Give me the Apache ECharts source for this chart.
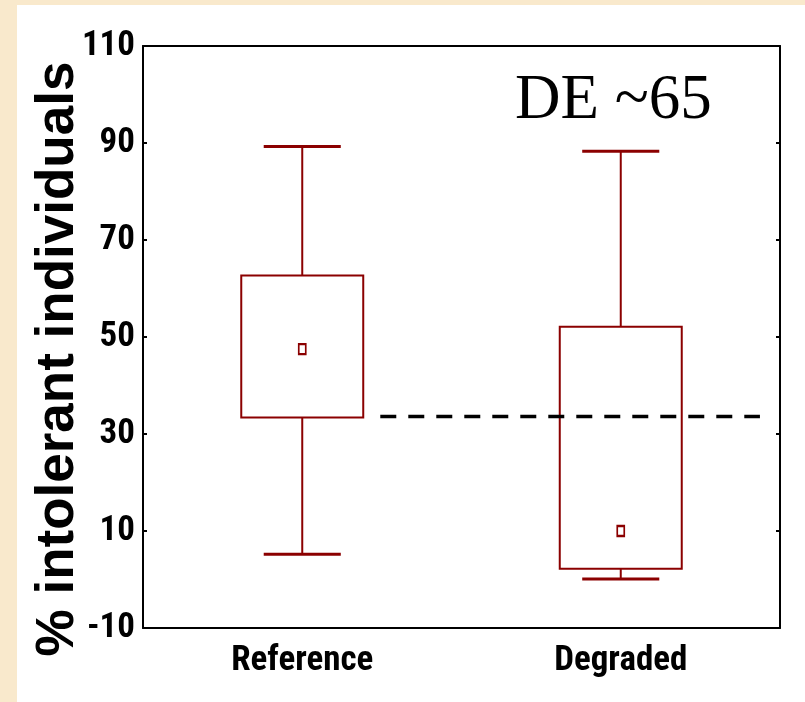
<!DOCTYPE html>
<html>
<head>
<meta charset="utf-8">
<script src="https://cdn.jsdelivr.net/npm/echarts@6/dist/echarts.min.js"></script>
<style>
  html, body { margin: 0; padding: 0; width: 805px; height: 702px; background: #F9E9CC; overflow: hidden; }
  #chart { position: absolute; left: 17px; top: 5px; width: 788px; height: 697px; background: #ffffff; }
</style>
</head>
<body>
<div id="chart"></div>
<script>
// ---- data ----
const categories = ['Reference', 'Degraded'];
const whiskerLow = [5.2, 0.1];
const boxLow = [33.4, 2.2];
const boxHigh = [62.7, 52.1];
const whiskerHigh = [89.3, 88.3];
const centerMark = [47.5, 10.0];
const yTicks = { min: -10, max: 110, interval: 20 };
const thresholdValue = 33.6;
const thresholdSpan = [0.745, 1.937]; // in category-band units
const titleText = 'DE ~65';
const yTitle = '% intolerant individuals';

const boxColor = '#8B0000';
const narrow = "'Liberation Sans Narrow', 'Arial Narrow', 'Roboto Condensed', 'Liberation Sans', sans-serif";

const chart = echarts.init(document.getElementById('chart'), null, { renderer: 'canvas' });

const boxData = categories.map((c, i) => [i, whiskerLow[i], boxLow[i], boxHigh[i], whiskerHigh[i]]);

function renderBox(params, api) {
  const idx = api.value(0);
  const band = api.size([1, 0])[0];
  const x = api.coord([idx, 0])[0];
  const yWL = api.coord([idx, api.value(1)])[1];
  const yBL = api.coord([idx, api.value(2)])[1];
  const yBH = api.coord([idx, api.value(3)])[1];
  const yWH = api.coord([idx, api.value(4)])[1];
  const bh = band * 0.1915;
  const ch = band * 0.121;
  return {
    type: 'group',
    children: [
      { type: 'line', shape: { x1: x, y1: yWH, x2: x, y2: yBH }, style: { stroke: boxColor, lineWidth: 2 } },
      { type: 'line', shape: { x1: x, y1: yBL, x2: x, y2: yWL }, style: { stroke: boxColor, lineWidth: 2 } },
      { type: 'line', shape: { x1: x - ch, y1: yWH, x2: x + ch, y2: yWH }, style: { stroke: boxColor, lineWidth: 3 } },
      { type: 'line', shape: { x1: x - ch, y1: yWL, x2: x + ch, y2: yWL }, style: { stroke: boxColor, lineWidth: 3 } },
      { type: 'rect', shape: { x: x - bh, y: yBH, width: 2 * bh, height: yBL - yBH }, style: { fill: '#ffffff', stroke: boxColor, lineWidth: 2 } }
    ]
  };
}

const option = {
  backgroundColor: '#ffffff',
  animation: false,
  title: {
    text: titleText,
    left: 493,
    top: 60,
    textStyle: { fontFamily: "'Liberation Serif', 'Times New Roman', serif", fontSize: 63, fontWeight: 'normal', color: '#000' }
  },
  graphic: [{
    type: 'text',
    x: 41, y: 354,
    rotation: Math.PI / 2,
    style: { text: yTitle, fontFamily: "'Liberation Sans', Arial, sans-serif", fontWeight: 'bold', fontSize: 53, fill: '#000', align: 'center', verticalAlign: 'middle' }
  }],
  grid: { left: 126, top: 41, right: 25, bottom: 74, show: false },
  xAxis: [
    {
      type: 'category', data: categories, position: 'bottom',
      axisLine: { onZero: false, lineStyle: { color: '#000', width: 2 } },
      axisTick: { inside: true, length: 6, lineStyle: { color: '#000', width: 2 } },
      axisLabel: { fontFamily: narrow, fontWeight: 'bold', fontSize: 35, color: '#000', margin: 16 },
      splitLine: { show: false }
    },
    {
      type: 'category', data: categories, position: 'top',
      axisLine: { onZero: false, lineStyle: { color: '#000', width: 2 } },
      axisTick: { inside: true, length: 6, lineStyle: { color: '#000', width: 2 } },
      axisLabel: { show: false },
      splitLine: { show: false }
    },
    {
      type: 'value', min: 0, max: 2, show: false
    }
  ],
  yAxis: [
    {
      type: 'value', min: yTicks.min, max: yTicks.max, interval: yTicks.interval, position: 'left',
      axisLine: { show: true, onZero: false, lineStyle: { color: '#000', width: 2 } },
      axisTick: { show: true, inside: true, length: 4, lineStyle: { color: '#000', width: 2 } },
      axisLabel: { fontFamily: narrow, fontWeight: 'bold', fontSize: 35, color: '#000', margin: 8 },
      splitLine: { show: false }
    },
    {
      type: 'value', min: yTicks.min, max: yTicks.max, interval: yTicks.interval, position: 'right',
      axisLine: { show: true, onZero: false, lineStyle: { color: '#000', width: 2 } },
      axisTick: { show: true, inside: true, length: 4, lineStyle: { color: '#000', width: 2 } },
      axisLabel: { show: false },
      splitLine: { show: false }
    }
  ],
  series: [
    {
      type: 'custom', xAxisIndex: 0, yAxisIndex: 0,
      renderItem: renderBox,
      encode: { x: 0, y: [1, 2, 3, 4] },
      data: boxData, z: 2
    },
    {
      type: 'scatter', xAxisIndex: 0, yAxisIndex: 0,
      symbol: 'rect', symbolSize: [7, 10],
      itemStyle: { color: '#ffffff', borderColor: boxColor, borderWidth: 2, opacity: 1 },
      data: categories.map((c, i) => [i, centerMark[i]]), z: 3
    },
    {
      type: 'line', xAxisIndex: 2, yAxisIndex: 0,
      symbol: 'none',
      lineStyle: { color: '#000', width: 3.5, type: [16, 12] },
      data: [[thresholdSpan[0], thresholdValue], [thresholdSpan[1], thresholdValue]], z: 4
    }
  ]
};
chart.setOption(option);
</script>
</body>
</html>
